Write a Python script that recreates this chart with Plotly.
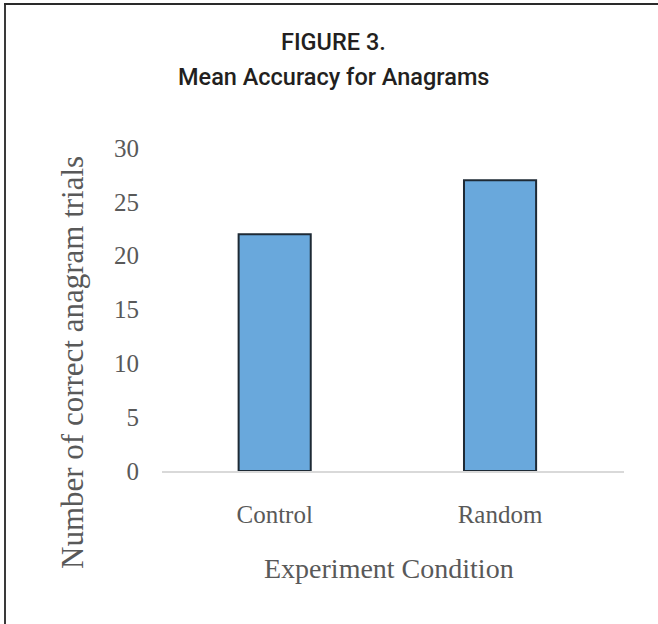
import plotly.graph_objects as go

categories = ["Control", "Random"]
values = [22, 27]
y_ticks = [0, 5, 10, 15, 20, 25, 30]

W, H = 658, 624
L, R, T, B = 162, 624, 148, 471  # plot area in pixels


def px(x):
    return (x - L) / (R - L)


def py(y):
    return (B - y) / (B - T)


fig = go.Figure()
fig.add_trace(go.Bar(
    x=[0, 1],
    y=values,
    width=0.32,
    marker=dict(color="#69A8DC", line=dict(color="#1E2A35", width=2)),
    hoverinfo="skip",
))

serif = "Liberation Serif, Times New Roman, serif"
sans = "Roboto, Liberation Sans, Arial, sans-serif"
gray = "#595959"

fig.update_layout(
    width=W, height=H,
    margin=dict(l=L, r=W - R, t=T, b=H - B, pad=0),
    paper_bgcolor="white", plot_bgcolor="white",
    showlegend=False,
    xaxis=dict(
        range=[-0.5, 1.55],
        tickmode="array", tickvals=[0, 1], ticktext=categories,
        showgrid=False, zeroline=False,
        showline=True, linecolor="#D9D9D9", linewidth=1.5,
        ticks="", tickfont=dict(family=serif, size=25, color=gray),
        ticklabelstandoff=20,
        fixedrange=True,
    ),
    yaxis=dict(
        range=[0, 30],
        tickmode="array", tickvals=y_ticks,
        showgrid=False, zeroline=False, showline=False,
        ticks="", tickfont=dict(family=serif, size=25, color=gray),
        ticklabelstandoff=22,
        fixedrange=True,
    ),
    annotations=[
        dict(text="FIGURE 3.", x=px(333), y=py(42), xref="paper", yref="paper",
             showarrow=False, xanchor="center", yanchor="middle",
             font=dict(family=sans, size=23.5, color="#231F20", weight=500)),
        dict(text="Mean Accuracy for Anagrams", x=px(333), y=py(77), xref="paper", yref="paper",
             showarrow=False, xanchor="center", yanchor="middle",
             font=dict(family=sans, size=23.5, color="#231F20", weight=500)),
        dict(text="Experiment Condition", x=px(389), y=py(568), xref="paper", yref="paper",
             showarrow=False, xanchor="center", yanchor="middle",
             font=dict(family=serif, size=28, color=gray)),
        dict(text="Number of correct anagram trials", x=px(72), y=py(363), xref="paper", yref="paper",
             showarrow=False, xanchor="center", yanchor="middle", textangle=-90,
             font=dict(family=serif, size=31, color=gray)),
    ],
    shapes=[
        dict(type="line", xref="paper", yref="paper", x0=px(5), x1=px(5), y0=py(3), y1=py(H + 2),
             line=dict(color="#3A3A3A", width=2)),
        dict(type="line", xref="paper", yref="paper", x0=px(4), x1=px(W + 2), y0=py(4), y1=py(4),
             line=dict(color="#2A2A2A", width=2)),
    ],
)

fig.write_html(
    "out.html",
    config={"displayModeBar": False},
    post_script="document.body.style.margin='0';document.body.style.overflow='hidden';",
)
